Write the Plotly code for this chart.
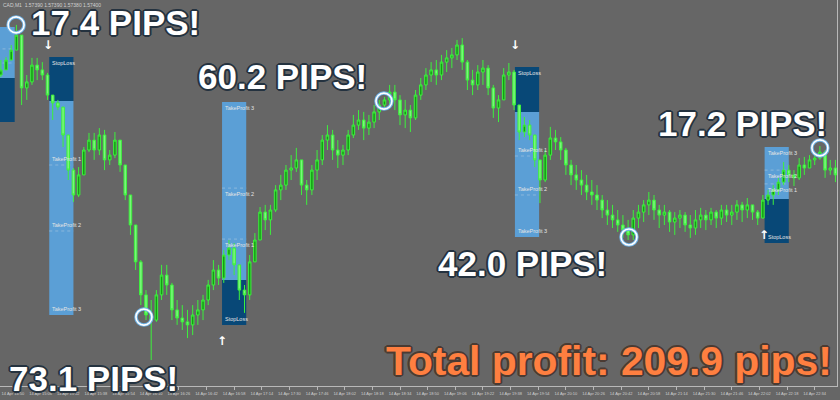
import pandas as pd
import plotly.graph_objects as go

# ---------------- data ----------------
SYMBOL_HEADER = "CAD,M1  1.57390 1.57390 1.57380 1.57400"
START = "2024-04-14 14:43"
N_BARS = 164
TIMES = pd.date_range(START, periods=N_BARS, freq="3min")

FIRST_OPEN = 1.57750
CLOSE = [
    1.57767, 1.57800, 1.57833, 1.57883, 1.57707, 1.57727, 1.57783, 1.57767, 1.57750, 1.57683,
    1.57657, 1.57643, 1.57550, 1.57433, 1.57350, 1.57417, 1.57500, 1.57533, 1.57500, 1.57550,
    1.57467, 1.57483, 1.57533, 1.57450, 1.57350, 1.57250, 1.57127, 1.57017, 1.56950, 1.56933,
    1.57017, 1.57083, 1.57050, 1.56967, 1.56940, 1.56927, 1.56917, 1.56950, 1.56967, 1.57000,
    1.57050, 1.57100, 1.57073, 1.57150, 1.57173, 1.57117, 1.57033, 1.57017, 1.57127, 1.57200,
    1.57293, 1.57267, 1.57300, 1.57367, 1.57383, 1.57433, 1.57440, 1.57467, 1.57383, 1.57367,
    1.57433, 1.57467, 1.57533, 1.57550, 1.57500, 1.57483, 1.57500, 1.57550, 1.57583, 1.57600,
    1.57573, 1.57593, 1.57627, 1.57650, 1.57667, 1.57693, 1.57667, 1.57617, 1.57633, 1.57607,
    1.57683, 1.57717, 1.57750, 1.57767, 1.57750, 1.57793, 1.57807, 1.57817, 1.57850, 1.57793,
    1.57733, 1.57717, 1.57760, 1.57773, 1.57707, 1.57640, 1.57667, 1.57750, 1.57760, 1.57650,
    1.57560, 1.57583, 1.57550, 1.57467, 1.57400, 1.57483, 1.57540, 1.57527, 1.57500, 1.57450,
    1.57417, 1.57400, 1.57383, 1.57360, 1.57350, 1.57333, 1.57300, 1.57283, 1.57267, 1.57250,
    1.57233, 1.57217, 1.57273, 1.57293, 1.57317, 1.57333, 1.57300, 1.57283, 1.57293, 1.57260,
    1.57273, 1.57283, 1.57250, 1.57240, 1.57267, 1.57283, 1.57267, 1.57293, 1.57273, 1.57300,
    1.57283, 1.57293, 1.57317, 1.57300, 1.57317, 1.57293, 1.57273, 1.57333, 1.57350, 1.57367,
    1.57393, 1.57433, 1.57417, 1.57407, 1.57450, 1.57440, 1.57467, 1.57473, 1.57493, 1.57433,
    1.57440, 1.57417, 1.57407, 1.57400,
]
HIGH = [
    1.57800, 1.57810, 1.57850, 1.57917, 1.57883, 1.57750, 1.57807, 1.57807, 1.57793, 1.57757,
    1.57683, 1.57667, 1.57643, 1.57550, 1.57440, 1.57443, 1.57510, 1.57557, 1.57557, 1.57573,
    1.57567, 1.57500, 1.57560, 1.57533, 1.57450, 1.57350, 1.57250, 1.57133, 1.57033, 1.57000,
    1.57033, 1.57117, 1.57117, 1.57057, 1.57000, 1.56983, 1.56967, 1.56983, 1.57000, 1.57017,
    1.57067, 1.57133, 1.57117, 1.57167, 1.57200, 1.57190, 1.57117, 1.57050, 1.57150, 1.57223,
    1.57310, 1.57317, 1.57317, 1.57383, 1.57417, 1.57450, 1.57483, 1.57507, 1.57467, 1.57400,
    1.57450, 1.57500, 1.57550, 1.57583, 1.57567, 1.57533, 1.57517, 1.57567, 1.57617, 1.57633,
    1.57627, 1.57617, 1.57650, 1.57667, 1.57677, 1.57717, 1.57717, 1.57683, 1.57667, 1.57650,
    1.57700, 1.57740, 1.57773, 1.57793, 1.57800, 1.57817, 1.57833, 1.57840, 1.57867, 1.57873,
    1.57800, 1.57767, 1.57783, 1.57800, 1.57783, 1.57717, 1.57683, 1.57773, 1.57790, 1.57767,
    1.57650, 1.57610, 1.57600, 1.57550, 1.57467, 1.57500, 1.57577, 1.57567, 1.57543, 1.57507,
    1.57467, 1.57450, 1.57433, 1.57417, 1.57400, 1.57383, 1.57350, 1.57333, 1.57317, 1.57300,
    1.57283, 1.57267, 1.57300, 1.57317, 1.57333, 1.57360, 1.57350, 1.57317, 1.57317, 1.57300,
    1.57293, 1.57300, 1.57293, 1.57283, 1.57300, 1.57307, 1.57300, 1.57307, 1.57300, 1.57317,
    1.57317, 1.57317, 1.57333, 1.57327, 1.57340, 1.57317, 1.57300, 1.57350, 1.57367, 1.57383,
    1.57407, 1.57460, 1.57450, 1.57433, 1.57473, 1.57477, 1.57483, 1.57493, 1.57513, 1.57500,
    1.57467, 1.57467, 1.57433, 1.57427,
]
LOW = [
    1.57743, 1.57767, 1.57800, 1.57857, 1.57650, 1.57667, 1.57717, 1.57733, 1.57733, 1.57667,
    1.57600, 1.57633, 1.57510, 1.57400, 1.57327, 1.57343, 1.57417, 1.57493, 1.57467, 1.57483,
    1.57433, 1.57450, 1.57473, 1.57427, 1.57333, 1.57217, 1.57100, 1.56983, 1.56933, 1.56800,
    1.56927, 1.57000, 1.57017, 1.56933, 1.56917, 1.56900, 1.56873, 1.56883, 1.56917, 1.56933,
    1.56983, 1.57033, 1.57050, 1.57057, 1.57133, 1.57083, 1.57000, 1.56957, 1.57000, 1.57127,
    1.57200, 1.57233, 1.57217, 1.57293, 1.57333, 1.57367, 1.57400, 1.57427, 1.57350, 1.57317,
    1.57350, 1.57400, 1.57450, 1.57500, 1.57467, 1.57440, 1.57450, 1.57483, 1.57540, 1.57567,
    1.57533, 1.57550, 1.57573, 1.57600, 1.57633, 1.57650, 1.57633, 1.57583, 1.57573, 1.57560,
    1.57600, 1.57667, 1.57700, 1.57727, 1.57717, 1.57733, 1.57760, 1.57773, 1.57800, 1.57767,
    1.57700, 1.57683, 1.57700, 1.57717, 1.57683, 1.57607, 1.57593, 1.57667, 1.57733, 1.57633,
    1.57533, 1.57543, 1.57533, 1.57443, 1.57323, 1.57393, 1.57467, 1.57500, 1.57467, 1.57417,
    1.57383, 1.57367, 1.57350, 1.57333, 1.57317, 1.57300, 1.57273, 1.57250, 1.57240, 1.57227,
    1.57207, 1.57200, 1.57200, 1.57240, 1.57260, 1.57283, 1.57267, 1.57240, 1.57250, 1.57227,
    1.57217, 1.57240, 1.57227, 1.57207, 1.57217, 1.57240, 1.57233, 1.57250, 1.57240, 1.57250,
    1.57260, 1.57250, 1.57267, 1.57260, 1.57273, 1.57267, 1.57250, 1.57273, 1.57317, 1.57317,
    1.57350, 1.57383, 1.57393, 1.57380, 1.57400, 1.57417, 1.57440, 1.57450, 1.57467, 1.57407,
    1.57417, 1.57393, 1.57383, 1.57373,
]

# trades
TRADE_START = ["2024-04-14 14:37", "2024-04-14 15:11", "2024-04-14 16:51",
               "2024-04-14 19:40:30", "2024-04-14 22:05"]
TRADE_END = ["2024-04-14 14:51", "2024-04-14 15:25", "2024-04-14 17:05",
             "2024-04-14 19:54:30", "2024-04-14 22:19"]
TRADE_DIR = ["buy", "sell", "buy", "sell", "buy"]
ENTRY = [1.57740, 1.57663, 1.57067, 1.57627, 1.57337]
STOP = [1.57593, 1.57810, 1.56917, 1.57777, 1.57190]
TP1 = [1.57790, 1.57450, 1.57203, 1.57480, 1.57387]
TP2 = [1.57837, 1.57230, 1.57373, 1.57350, 1.57433]
TP3 = [1.57910, 1.56950, 1.57660, 1.57210, 1.57510]
EXIT_TIME = ["2024-04-14 14:51:48", "2024-04-14 16:05:48", "2024-04-14 18:24:42",
             "2024-04-14 20:46:30", "2024-04-14 22:37"]
EXIT_PRICE = [1.57917, 1.56943, 1.57663, 1.57210, 1.57507]
PIPS = [17.4, 73.1, 60.2, 42.0, 17.2]
TOTAL_PIPS = 209.9
SIGNAL_TIME = ["2024-04-14 15:10:20", "2024-04-14 16:51", "2024-04-14 19:40:30", "2024-04-14 22:04:40"]
SIGNAL_PRICE = [1.57847, 1.56860, 1.57847, 1.57213]
SIGNAL_DIR = ["sell", "buy", "sell", "buy"]

# ---------------- figure ----------------
OPEN = [FIRST_OPEN] + CLOSE[:-1]
HIGH_ = [max(h, o, c) for h, o, c in zip(HIGH, OPEN, CLOSE)]
LOW_ = [min(l, o, c) for l, o, c in zip(LOW, OPEN, CLOSE)]

BG = "#666666"
LIGHT = "#5b9fd6"
DARK = "#084877"
fig = go.Figure()

shapes = []
annotations = []
lab_font = dict(family="Liberation Sans", size=5.5, color="#e4e4e4")
for k in range(len(ENTRY)):
    x0, x1 = TRADE_START[k], TRADE_END[k]
    shapes.append(dict(type="rect", xref="x", yref="y", x0=x0, x1=x1, y0=ENTRY[k], y1=TP3[k],
                       fillcolor=LIGHT, line=dict(width=0), layer="below"))
    shapes.append(dict(type="rect", xref="x", yref="y", x0=x0, x1=x1, y0=ENTRY[k], y1=STOP[k],
                       fillcolor=DARK, line=dict(width=0), layer="below"))
    for lvl in (TP1[k], TP2[k]):
        shapes.append(dict(type="line", xref="x", yref="y", x0=x0, x1=x1, y0=lvl, y1=lvl,
                           line=dict(color="#a9c8e0", width=0.6, dash="dot"), layer="below"))
    buy = TRADE_DIR[k] == "buy"
    tp_anchor = "top" if buy else "bottom"
    sl_anchor = "bottom" if buy else "top"
    xt = pd.Timestamp(x0) + pd.Timedelta(seconds=40)
    for name, lvl, anc in (("TakeProfit 1", TP1[k], tp_anchor), ("TakeProfit 2", TP2[k], tp_anchor),
                           ("TakeProfit 3", TP3[k], tp_anchor), ("StopLoss", STOP[k], sl_anchor)):
        annotations.append(dict(x=xt, y=lvl, xref="x", yref="y", text=name, showarrow=False,
                                xanchor="left", yanchor=anc, font=lab_font,
                                yshift=(-1 if anc == "top" else 1)))

fig.add_trace(go.Candlestick(
    x=TIMES, open=OPEN, high=HIGH_, low=LOW_, close=CLOSE,
    increasing=dict(line=dict(color="#3df03d", width=1), fillcolor="#159c15"),
    decreasing=dict(line=dict(color="#3df03d", width=1), fillcolor="#7af77a"),
    whiskerwidth=0, hoverinfo="skip", showlegend=False,
))

# exit circles (open symbols are stroked with marker.color)
fig.add_trace(go.Scatter(x=EXIT_TIME, y=EXIT_PRICE, mode="markers", hoverinfo="skip",
                         marker=dict(symbol="circle-open", size=16, color="#6fb2e6",
                                     line=dict(width=3.5))))
fig.add_trace(go.Scatter(x=EXIT_TIME, y=EXIT_PRICE, mode="markers", hoverinfo="skip",
                         marker=dict(symbol="circle-open", size=16, color="#ffffff",
                                     line=dict(width=1.6))))

# signal arrows
fig.add_trace(go.Scatter(x=SIGNAL_TIME, y=SIGNAL_PRICE, mode="text", hoverinfo="skip",
                         text=["↓" if d == "sell" else "↑" for d in SIGNAL_DIR],
                         textfont=dict(family="DejaVu Sans", size=12, color="white", weight="bold")))


def outline(c, w=2):
    parts = []
    for dx, dy in ((w, 0), (-w, 0), (0, w), (0, -w), (w * 0.7, w * 0.7), (-w * 0.7, -w * 0.7),
                   (w * 0.7, -w * 0.7), (-w * 0.7, w * 0.7)):
        parts.append(f"{dx:.1f}px {dy:.1f}px 0 {c}")
    return ", ".join(parts)


PIP_POS = [(29, 22), (7, 377), (196, 75), (436, 262), (656, 122)]
W, H = 837.0, 386.0
for p, (px, py) in zip(PIPS, PIP_POS):
    annotations.append(dict(xref="paper", yref="paper", x=px / W, y=1 - (py + 1) / H,
                            text=f"{p:.1f} PIPS!", showarrow=False, xanchor="left", yanchor="middle",
                            font=dict(family="Liberation Sans", size=35, color="white", weight="bold",
                                      shadow=outline("#24323f"))))
annotations.append(dict(xref="paper", yref="paper", x=384 / W, y=1 - (360 + 1) / H,
                        text=f"Total profit: {TOTAL_PIPS:.1f} pips!", showarrow=False,
                        xanchor="left", yanchor="middle",
                        font=dict(family="Liberation Sans", size=40.8, color="#ff7f40", weight="bold",
                                  shadow=outline("#4a3b33"))))
annotations.append(dict(xref="paper", yref="paper", x=0.001, y=1.0, text=SYMBOL_HEADER,
                        showarrow=False, xanchor="left", yanchor="top",
                        font=dict(family="Liberation Sans", size=5, color="#d0d0d0")))

fig.update_layout(
    width=840, height=400,
    margin=dict(l=0, r=3, t=0, b=14, autoexpand=False),
    paper_bgcolor=BG, plot_bgcolor=BG,
    showlegend=False,
    shapes=shapes, annotations=annotations,
    xaxis=dict(type="date", range=["2024-04-14 14:42:30", "2024-04-14 22:46:54"],
               rangeslider=dict(visible=False), showgrid=False, zeroline=False,
               automargin=False, tickangle=0,
               tick0="2024-04-14 14:50", dtick=16 * 60 * 1000, tickformat="%d %b %H:%M",
               ticklabelmode="period", ticks="outside", ticklen=3, tickcolor="#b8b8b8",
               tickfont=dict(family="Liberation Sans", size=4, color="#d0d0d0"),
               showline=True, linecolor="#b8b8b8", linewidth=1),
    yaxis=dict(range=[1.567133, 1.58], showgrid=False, zeroline=False, showticklabels=False,
               automargin=False,
               side="right", showline=True, linecolor="#b8b8b8", linewidth=1, ticks=""),
)

fig.write_html("out.html", config={"displayModeBar": False},
               post_script="document.body.style.margin='0px';document.body.style.background='#666666';")
